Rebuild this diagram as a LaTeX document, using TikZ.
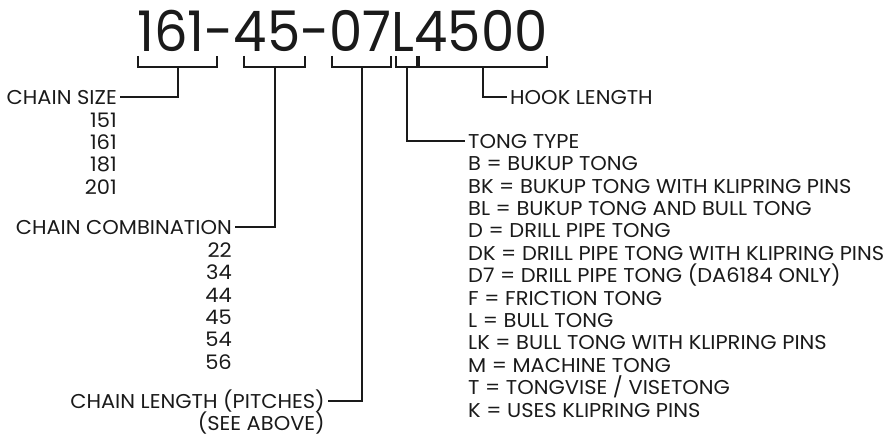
\documentclass[tikz,border=0pt]{standalone}
\usepackage{fontspec}
\setmainfont{Poppins}[FakeStretch=1.05]
\newfontfamily\codefont{Poppins}[FakeStretch=0.945]
\usetikzlibrary{positioning,calc}

\definecolor{ink}{HTML}{1A1A1A}

\begin{document}
\begin{tikzpicture}[x=1pt,y=-1pt,
        lbl/.style={inner xsep=3pt, inner ysep=0pt, text height=14pt, text depth=0pt, text=ink, font=\fontsize{20}{22.4}\selectfont},
        listtxt/.style={inner sep=0pt, text=ink, font=\fontsize{20}{22.4}\selectfont},
        codetxt/.style={inner sep=0pt, text=ink, font=\codefont\fontsize{56}{56}\selectfont},
        brk/.style={draw=ink, line width=2pt},
        lead/.style={draw=ink, line width=2pt}
        ]
    \useasboundingbox (0,0) rectangle (891,436);

    % Code
    \node[codetxt, anchor=base] (code) at (342.5,52) {161-45-07L4500};

    % Brackets
    \foreach \a/\b/\n in {138/217/bsize, 244/305/bcomb, 332/391/blen, 396/417/btype, 419/547/bhook}{
        \draw[brk] (\a,56) -- (\a,67) -- (\b,67) -- (\b,56);
        \coordinate (\n) at ({(\a+\b)/2},67);
    }

    % Labels
    \node[lbl, anchor=east] (sizelbl) at (120,97) {CHAIN SIZE};
    \node[listtxt, anchor=north east, align=right] (sizes) at ($(sizelbl.east)+(-3,15.4)$) {151\\161\\181\\201};
    \node[lbl, anchor=east] (comblbl) at (235,227) {CHAIN COMBINATION};
    \node[listtxt, anchor=north east, align=right] (combs) at ($(comblbl.east)+(-3,15.4)$) {22\\34\\44\\45\\54\\56};
    \node[lbl, anchor=east] (lenlbl) at (328,401) {CHAIN LENGTH (PITCHES)};
    \node[lbl, anchor=east] (lennote) at ($(lenlbl.east)+(0,22.4)$) {(SEE ABOVE)};
    \node[lbl, anchor=west] (typelbl) at (465,141) {TONG TYPE};
    \node[listtxt, anchor=north west, align=left] (types) at ($(typelbl.west)+(3,15.4)$) {B = BUKUP TONG\\
        BK = BUKUP TONG WITH KLIPRING PINS\\
        BL = BUKUP TONG AND BULL TONG\\
        D = DRILL PIPE TONG\\
        DK = DRILL PIPE TONG WITH KLIPRING PINS\\
        D7 = DRILL PIPE TONG (DA6184 ONLY)\\
        F = FRICTION TONG\\
        L = BULL TONG\\
        LK = BULL TONG WITH KLIPRING PINS\\
        M = MACHINE TONG\\
        T = TONGVISE / VISETONG\\
        K = USES KLIPRING PINS};
    \node[lbl, anchor=west] (hooklbl) at (507,97) {HOOK LENGTH};

    % Lines
    \draw[lead] (bsize) |- (sizelbl.east);
    \draw[lead] (bcomb) |- (comblbl.east);
    \draw[lead] (blen) |- (lenlbl.east);
    \draw[lead] (btype) |- (typelbl.west);
    \draw[lead] (bhook) |- (hooklbl.west);

\end{tikzpicture}
\end{document}
